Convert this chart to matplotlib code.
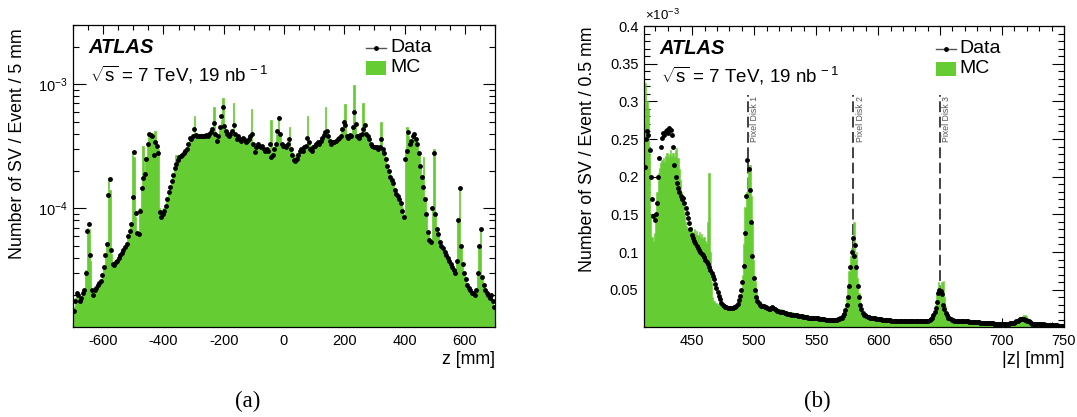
import numpy as np
import matplotlib
matplotlib.use('Agg')
import matplotlib.pyplot as plt
from matplotlib.ticker import MultipleLocator, FixedLocator, LogLocator, NullFormatter, FixedFormatter

plt.rcParams['font.family'] = ['Liberation Sans', 'DejaVu Sans']
plt.rcParams['mathtext.fontset'] = 'custom'
plt.rcParams['mathtext.rm'] = 'Liberation Sans'
plt.rcParams['mathtext.it'] = 'Liberation Sans:italic'
plt.rcParams['mathtext.bf'] = 'Liberation Sans:bold'
plt.rcParams['axes.unicode_minus'] = False

# ---------------- panel (a): z, 5 mm bins from -700 to 700, values in 1e-5 ----------------
za_lo = -700
za_bw = 5
data_a = [
    1.5, 1.8, 2.1, 2.0, 1.8, 1.9, 2.1, 2.2, 3.0, 6.6,
    7.5, 4.2, 2.2, 2.0, 2.2, 2.3, 2.4, 2.5, 2.6, 2.9,
    3.4, 4.2, 5.2, 12.8, 17.4, 4.6, 3.6, 3.5, 3.7, 3.8,
    4.0, 4.2, 4.4, 4.6, 4.9, 5.2, 6.0, 6.6, 7.5, 12.4,
    28.5, 9.2, 6.4, 6.2, 9.5, 14.5, 17.5, 19.0, 25.0, 33.0,
    40.0, 39.0, 38.0, 27.0, 34.0, 32.0, 28.0, 9.4, 8.5, 9.0,
    9.5, 10.5, 12.0, 13.5, 15.0, 16.5, 18.5, 21.0, 23.0, 24.5,
    26.0, 26.5, 27.0, 28.0, 29.0, 30.0, 33.0, 37.0, 36.0, 38.0,
    44.0, 39.0, 38.0, 38.5, 38.0, 38.5, 38.0, 38.5, 39.0, 38.5,
    40.0, 41.0, 44.0, 49.0, 40.0, 35.0, 38.0, 45.0, 55.0, 65.0,
    46.0, 42.0, 40.0, 38.0, 40.0, 42.0, 47.0, 40.0, 36.0, 38.0,
    36.0, 35.0, 37.0, 36.0, 34.0, 35.0, 36.0, 38.0, 40.0, 33.0,
    28.5, 31.0, 33.0, 32.0, 31.0, 32.0, 30.0, 29.0, 30.0, 29.0,
    33.0, 26.0, 27.0, 30.0, 33.0, 42.0, 53.0, 40.0, 33.0, 32.0,
    32.0, 31.0, 33.0, 36.0, 30.0, 27.0, 24.5, 24.0, 25.0, 27.0,
    29.0, 30.0, 29.0, 31.0, 32.0, 37.0, 34.0, 30.0, 29.0, 31.0,
    32.0, 33.0, 34.0, 33.0, 35.0, 37.0, 39.0, 41.0, 42.0, 38.0,
    35.0, 33.0, 34.0, 34.0, 35.0, 36.0, 37.0, 38.0, 44.0, 50.0,
    47.0, 38.0, 37.0, 39.0, 38.0, 45.0, 60.0, 48.0, 38.0, 37.0,
    39.0, 40.0, 44.0, 47.0, 40.0, 38.0, 36.0, 33.0, 32.0, 31.0,
    31.0, 31.0, 30.0, 31.0, 36.0, 30.0, 28.0, 25.0, 22.0, 20.0,
    18.0, 17.0, 16.0, 14.0, 13.0, 12.5, 12.0, 11.0, 9.5, 8.6,
    25.0, 29.0, 41.0, 33.0, 35.0, 38.0, 40.0, 36.0, 33.0, 28.0,
    22.0, 18.0, 15.0, 12.0, 9.0, 6.5, 5.6, 5.4, 10.0, 28.0,
    9.0, 6.8, 6.2, 5.4, 5.0, 4.8, 4.5, 4.2, 4.0, 3.8,
    3.6, 3.4, 3.2, 3.0, 3.8, 8.0, 14.5, 5.0, 3.6, 3.0,
    2.7, 2.4, 2.3, 2.2, 2.1, 2.1, 2.0, 2.2, 3.0, 5.0,
    6.8, 2.8, 2.4, 2.2, 2.1, 2.0, 1.9, 2.0, 1.8, 1.6,
]
mc_a = [
    1.6, 1.9, 2.0, 2.0, 1.9, 1.9, 2.0, 2.2, 3.2, 7.0,
    6.8, 3.8, 2.2, 2.1, 2.2, 2.3, 2.4, 2.5, 2.6, 2.9,
    3.3, 4.0, 5.0, 17.5, 14.0, 4.3, 3.6, 3.6, 3.7, 3.9,
    4.0, 4.2, 4.4, 4.7, 5.0, 5.4, 6.0, 6.8, 7.5, 29.0,
    26.0, 8.5, 6.5, 6.6, 10.0, 14.5, 32.0, 20.0, 26.0, 33.0,
    39.0, 40.0, 38.0, 36.0, 42.0, 34.0, 30.0, 10.0, 9.0, 9.5,
    10.0, 10.5, 12.0, 13.5, 15.0, 16.5, 18.5, 21.0, 27.0, 25.0,
    26.0, 26.5, 27.0, 28.0, 29.0, 30.0, 33.0, 36.0, 36.0, 38.0,
    56.0, 39.0, 38.0, 38.0, 38.0, 38.0, 38.0, 38.0, 38.5, 38.0,
    40.0, 41.0, 44.0, 66.0, 40.0, 36.0, 38.0, 44.0, 52.0, 78.0,
    46.0, 42.0, 40.0, 38.0, 40.0, 42.0, 70.0, 40.0, 36.0, 38.0,
    36.0, 35.0, 37.0, 36.0, 34.0, 35.0, 36.0, 38.0, 63.0, 33.0,
    30.0, 31.0, 32.0, 32.0, 31.0, 32.0, 30.0, 29.5, 30.0, 29.0,
    30.0, 52.0, 28.0, 29.0, 32.0, 40.0, 55.0, 38.0, 33.0, 32.0,
    32.0, 31.0, 33.0, 45.0, 30.0, 28.0, 27.0, 27.0, 28.0, 28.0,
    29.0, 30.0, 29.0, 31.0, 32.0, 56.0, 34.0, 30.0, 29.0, 31.0,
    32.0, 33.0, 34.0, 33.0, 35.0, 37.0, 39.0, 66.0, 42.0, 38.0,
    35.0, 33.0, 34.0, 34.0, 35.0, 36.0, 37.0, 38.0, 44.0, 48.0,
    69.0, 38.0, 37.0, 39.0, 38.0, 45.0, 98.0, 46.0, 38.0, 37.0,
    39.0, 40.0, 70.0, 46.0, 40.0, 38.0, 36.0, 33.0, 32.0, 31.0,
    31.0, 31.0, 30.0, 31.0, 50.0, 30.0, 28.0, 25.0, 22.0, 20.0,
    18.0, 17.0, 16.0, 14.0, 13.0, 12.5, 12.0, 11.0, 10.0, 9.0,
    30.0, 45.0, 38.0, 33.0, 35.0, 38.0, 40.0, 36.0, 33.0, 28.0,
    22.0, 18.0, 26.0, 12.0, 9.0, 6.5, 5.8, 5.6, 10.0, 30.0,
    9.0, 6.8, 6.2, 5.4, 5.0, 4.8, 4.5, 4.2, 4.0, 3.8,
    3.6, 3.4, 3.2, 3.0, 3.8, 8.0, 15.0, 5.0, 3.6, 3.0,
    2.7, 2.4, 2.3, 2.2, 2.1, 2.1, 2.0, 2.2, 3.0, 5.0,
    7.0, 2.8, 2.4, 2.2, 2.1, 2.0, 1.9, 2.0, 1.8, 1.6,
]
scale_a = 1e-5

# ---------------- panel (b): |z|, 1 mm bins from 411 to 750, values in 1e-3 ----------------
zb_lo = 411
zb_bw = 1
data_b = [
    0.213, 0.250, 0.260, 0.255, 0.235, 0.200, 0.170, 0.148, 0.142, 0.150,
    0.165, 0.200, 0.225, 0.240, 0.252, 0.258, 0.255, 0.260, 0.262, 0.258,
    0.264, 0.262, 0.255, 0.240, 0.215, 0.200, 0.192, 0.185, 0.180, 0.175,
    0.170, 0.172, 0.165, 0.158, 0.152, 0.145, 0.138, 0.130, 0.122, 0.118,
    0.115, 0.112, 0.108, 0.105, 0.103, 0.100, 0.098, 0.096, 0.093, 0.090,
    0.087, 0.084, 0.080, 0.076, 0.072, 0.068, 0.064, 0.058, 0.052, 0.047,
    0.042, 0.037, 0.033, 0.030, 0.028, 0.027, 0.027, 0.026, 0.026, 0.026,
    0.026, 0.026, 0.027, 0.027, 0.028, 0.031, 0.036, 0.042, 0.050, 0.060,
    0.082, 0.125, 0.175, 0.222, 0.210, 0.182, 0.140, 0.095, 0.066, 0.050,
    0.040, 0.035, 0.032, 0.030, 0.029, 0.028, 0.028, 0.027, 0.027, 0.026,
    0.025, 0.025, 0.026, 0.027, 0.026, 0.024, 0.023, 0.022, 0.022, 0.021,
    0.021, 0.020, 0.020, 0.019, 0.019, 0.018, 0.018, 0.018, 0.017, 0.017,
    0.017, 0.016, 0.016, 0.016, 0.015, 0.015, 0.015, 0.015, 0.014, 0.014,
    0.014, 0.014, 0.013, 0.013, 0.013, 0.013, 0.012, 0.012, 0.012, 0.012,
    0.012, 0.011, 0.011, 0.011, 0.011, 0.011, 0.010, 0.010, 0.010, 0.010,
    0.010, 0.010, 0.010, 0.010, 0.010, 0.010, 0.011, 0.011, 0.012, 0.013,
    0.015, 0.018, 0.023, 0.030, 0.040, 0.055, 0.080, 0.100, 0.118, 0.095,
    0.109, 0.080, 0.055, 0.040, 0.030, 0.024, 0.019, 0.017, 0.016, 0.015,
    0.014, 0.014, 0.013, 0.013, 0.012, 0.012, 0.012, 0.011, 0.011, 0.011,
    0.011, 0.011, 0.010, 0.010, 0.010, 0.010, 0.010, 0.010, 0.010, 0.009,
    0.009, 0.009, 0.009, 0.009, 0.009, 0.009, 0.009, 0.009, 0.009, 0.008,
    0.008, 0.008, 0.008, 0.009, 0.009, 0.008, 0.008, 0.008, 0.008, 0.008,
    0.008, 0.008, 0.008, 0.008, 0.008, 0.008, 0.008, 0.009, 0.009, 0.009,
    0.010, 0.011, 0.013, 0.016, 0.020, 0.026, 0.034, 0.046, 0.049, 0.048,
    0.044, 0.030, 0.024, 0.019, 0.016, 0.013, 0.012, 0.011, 0.010, 0.010,
    0.009, 0.009, 0.009, 0.009, 0.009, 0.008, 0.008, 0.009, 0.008, 0.008,
    0.008, 0.008, 0.007, 0.007, 0.007, 0.007, 0.007, 0.007, 0.007, 0.007,
    0.007, 0.006, 0.006, 0.006, 0.006, 0.006, 0.006, 0.006, 0.006, 0.006,
    0.006, 0.006, 0.005, 0.005, 0.005, 0.005, 0.005, 0.005, 0.005, 0.005,
    0.005, 0.005, 0.005, 0.005, 0.005, 0.006, 0.006, 0.006, 0.006, 0.007,
    0.008, 0.009, 0.010, 0.011, 0.011, 0.011, 0.011, 0.010, 0.010, 0.009,
    0.008, 0.007, 0.006, 0.005, 0.005, 0.005, 0.004, 0.004, 0.004, 0.004,
    0.004, 0.004, 0.004, 0.003, 0.003, 0.003, 0.003, 0.003, 0.003, 0.003,
    0.003, 0.003, 0.003, 0.003, 0.002, 0.002, 0.002, 0.002, 0.002,
]
mc_b = [
    0.270, 0.325, 0.300, 0.290, 0.230, 0.150, 0.120, 0.115, 0.125, 0.150,
    0.180, 0.205, 0.212, 0.218, 0.222, 0.225, 0.220, 0.228, 0.232, 0.226,
    0.230, 0.235, 0.228, 0.232, 0.226, 0.235, 0.238, 0.225, 0.210, 0.195,
    0.180, 0.165, 0.150, 0.140, 0.135, 0.132, 0.130, 0.128, 0.133, 0.126,
    0.130, 0.124, 0.128, 0.122, 0.126, 0.120, 0.124, 0.118, 0.120, 0.115,
    0.112, 0.140, 0.205, 0.100, 0.060, 0.040, 0.035, 0.033, 0.032, 0.031,
    0.030, 0.030, 0.029, 0.029, 0.028, 0.028, 0.027, 0.027, 0.027, 0.026,
    0.027, 0.026, 0.027, 0.028, 0.029, 0.032, 0.036, 0.042, 0.052, 0.070,
    0.110, 0.160, 0.180, 0.200, 0.210, 0.215, 0.175, 0.140, 0.090, 0.062,
    0.048, 0.040, 0.036, 0.033, 0.032, 0.031, 0.030, 0.030, 0.029, 0.029,
    0.028, 0.028, 0.029, 0.030, 0.029, 0.027, 0.026, 0.025, 0.025, 0.024,
    0.024, 0.023, 0.023, 0.022, 0.022, 0.021, 0.021, 0.020, 0.020, 0.020,
    0.019, 0.019, 0.018, 0.018, 0.018, 0.017, 0.017, 0.017, 0.018, 0.016,
    0.016, 0.016, 0.015, 0.015, 0.015, 0.014, 0.014, 0.014, 0.014, 0.013,
    0.013, 0.013, 0.013, 0.012, 0.012, 0.012, 0.012, 0.012, 0.011, 0.011,
    0.011, 0.011, 0.011, 0.011, 0.011, 0.012, 0.012, 0.013, 0.014, 0.016,
    0.019, 0.023, 0.030, 0.040, 0.055, 0.075, 0.095, 0.105, 0.100, 0.140,
    0.090, 0.100, 0.065, 0.045, 0.032, 0.025, 0.021, 0.019, 0.017, 0.016,
    0.015, 0.015, 0.014, 0.014, 0.013, 0.013, 0.013, 0.012, 0.012, 0.012,
    0.012, 0.011, 0.011, 0.011, 0.011, 0.011, 0.010, 0.010, 0.010, 0.010,
    0.010, 0.010, 0.010, 0.010, 0.010, 0.009, 0.009, 0.009, 0.009, 0.009,
    0.009, 0.009, 0.009, 0.009, 0.009, 0.009, 0.009, 0.009, 0.009, 0.009,
    0.009, 0.009, 0.009, 0.009, 0.009, 0.009, 0.009, 0.010, 0.010, 0.010,
    0.011, 0.012, 0.014, 0.017, 0.022, 0.030, 0.045, 0.060, 0.055, 0.045,
    0.060, 0.062, 0.040, 0.028, 0.020, 0.016, 0.014, 0.013, 0.012, 0.011,
    0.011, 0.010, 0.010, 0.010, 0.010, 0.009, 0.009, 0.009, 0.009, 0.009,
    0.008, 0.008, 0.008, 0.008, 0.008, 0.008, 0.007, 0.007, 0.007, 0.007,
    0.007, 0.007, 0.007, 0.007, 0.006, 0.006, 0.006, 0.006, 0.006, 0.006,
    0.006, 0.006, 0.006, 0.006, 0.006, 0.006, 0.006, 0.006, 0.006, 0.006,
    0.006, 0.006, 0.006, 0.006, 0.006, 0.006, 0.007, 0.007, 0.008, 0.008,
    0.009, 0.010, 0.011, 0.012, 0.013, 0.015, 0.016, 0.017, 0.015, 0.013,
    0.011, 0.009, 0.007, 0.006, 0.005, 0.005, 0.005, 0.004, 0.004, 0.004,
    0.004, 0.004, 0.004, 0.004, 0.004, 0.003, 0.003, 0.003, 0.003, 0.003,
    0.003, 0.003, 0.003, 0.003, 0.003, 0.003, 0.003, 0.002, 0.002,
]
disk_z = [495, 580, 650]
disk_labels = ['Pixel Disk 1', 'Pixel Disk 2', 'Pixel Disk 3']

xticks_a = [-600, -400, -200, 0, 200, 400, 600]
yticks_a = [1e-4, 1e-3]
yticklabels_a = [r'$10^{-4}$', r'$10^{-3}$']
xticks_b = [450, 500, 550, 600, 650, 700, 750]
yticks_b = [0.05, 0.1, 0.15, 0.2, 0.25, 0.3, 0.35, 0.4]
yticklabels_b = ['0.05', '0.1', '0.15', '0.2', '0.25', '0.3', '0.35', '0.4']

GREEN = '#66cc33'
W, H = 1077, 417
fig = plt.figure(figsize=(W / 100, H / 100), dpi=100)

def px_axes(x0, y0, x1, y1):
    return fig.add_axes([x0 / W, 1 - y1 / H, (x1 - x0) / W, (y1 - y0) / H])

axA = px_axes(73, 25, 495, 327)
axB = px_axes(644, 26, 1064, 327)

# ---- panel a ----
ya = np.array(data_a) * scale_a
ma = np.array(mc_a) * scale_a
edges_a = za_lo + za_bw * np.arange(len(data_a) + 1)
cent_a = 0.5 * (edges_a[:-1] + edges_a[1:])
axA.stairs(ma, edges_a, fill=True, facecolor=GREEN, edgecolor=GREEN, baseline=1e-7, lw=0.5, zorder=2)
axA.plot(cent_a, ya, 'o', color='k', ms=3.5, mew=0, zorder=3)
axA.set_yscale('log')
axA.set_xlim(-700, 700)
axA.set_ylim(1.11e-5, 3.0e-3)
axA.xaxis.set_major_locator(FixedLocator(xticks_a))
axA.xaxis.set_minor_locator(MultipleLocator(50))
axA.yaxis.set_major_locator(FixedLocator(yticks_a))
axA.yaxis.set_major_formatter(FixedFormatter(yticklabels_a))
axA.yaxis.set_minor_locator(LogLocator(base=10, subs=np.arange(2, 10)))
axA.yaxis.set_minor_formatter(NullFormatter())

# ---- panel b ----
yb = np.array(data_b)
mb = np.array(mc_b)
edges_b = zb_lo + zb_bw * np.arange(len(data_b) + 1)
cent_b = 0.5 * (edges_b[:-1] + edges_b[1:])
for zd in disk_z:
    axB.plot([zd, zd], [0, 0.308], color='#333333', lw=1.3, dashes=(6, 2.5), zorder=1)
axB.stairs(mb, edges_b, fill=True, facecolor=GREEN, edgecolor=GREEN, baseline=0, lw=0.4, zorder=2)
axB.plot(cent_b, yb, 'o', color='k', ms=3.5, mew=0, zorder=3)
for zd, lab in zip(disk_z, disk_labels):
    axB.text(zd + 1.8, 0.307, lab, rotation=90, ha='left', va='top', fontsize=6.3, color='#555555')
axB.set_xlim(411, 750)
axB.set_ylim(0.0005, 0.4)
axB.xaxis.set_major_locator(FixedLocator(xticks_b))
axB.xaxis.set_minor_locator(MultipleLocator(10))
axB.yaxis.set_major_locator(FixedLocator(yticks_b))
axB.yaxis.set_major_formatter(FixedFormatter(yticklabels_b))
axB.yaxis.set_minor_locator(MultipleLocator(0.01))

for ax in (axA, axB):
    for s in ax.spines.values():
        s.set_linewidth(0.9)
        s.set_zorder(5)
    ax.tick_params(which='both', direction='in', top=True, right=True, width=0.8, labelsize=10.5)
    ax.tick_params(axis='x', which='major', length=6.5, pad=5)
    ax.tick_params(axis='x', which='minor', length=3.3)
    ax.tick_params(axis='y', which='major', length=9, pad=4)
    ax.tick_params(axis='y', which='minor', length=4.5)
    # ATLAS label and energy text
    ax.text(0.037, 0.924, 'ATLAS', transform=ax.transAxes, fontsize=14.5, fontweight='bold',
            fontstyle='italic', ha='left', va='center')
    ax.text(0.04, 0.834, r'$\sqrt{\mathrm{s}}$ = 7 TeV, 19 nb$^{\,-1}$', transform=ax.transAxes,
            fontsize=13.5, ha='left', va='center')
    # legend
    ax.plot([0.695, 0.742], [0.924, 0.924], transform=ax.transAxes, color='#555555', lw=1.0, zorder=5)
    ax.plot([0.7185], [0.924], 'o', transform=ax.transAxes, color='k', ms=3.5, mew=0, zorder=6)
    ax.text(0.752, 0.924, 'Data', transform=ax.transAxes, fontsize=14, ha='left', va='center')
    ax.add_patch(plt.Rectangle((0.695, 0.834), 0.047, 0.047, transform=ax.transAxes,
                               color=GREEN, lw=0, zorder=5))
    ax.text(0.752, 0.858, 'MC', transform=ax.transAxes, fontsize=14, ha='left', va='center')

# multiplier for panel b
fig.text(645 / W, 1 - 15 / H, r'$\times10^{-3}$', fontsize=9.5, ha='left', va='center')

# axis titles
fig.text(18 / W, 1 - 28 / H, 'Number of SV / Event / 5 mm', rotation=90, ha='center', va='top', fontsize=12.8)
fig.text(588 / W, 1 - 26 / H, 'Number of SV / Event / 0.5 mm', rotation=90, ha='center', va='top', fontsize=12.8)
fig.text(495 / W, 1 - 360 / H, 'z [mm]', ha='right', va='center', fontsize=12.8)
fig.text(1064 / W, 1 - 360 / H, '|z| [mm]', ha='right', va='center', fontsize=12.8)

# sub-figure captions
fig.text(248 / W, 1 - 401 / H, '(a)', ha='center', va='center', fontsize=16.5, family='Liberation Serif')
fig.text(817 / W, 1 - 401 / H, '(b)', ha='center', va='center', fontsize=16.5, family='Liberation Serif')

fig.savefig('out.png', dpi=100)
